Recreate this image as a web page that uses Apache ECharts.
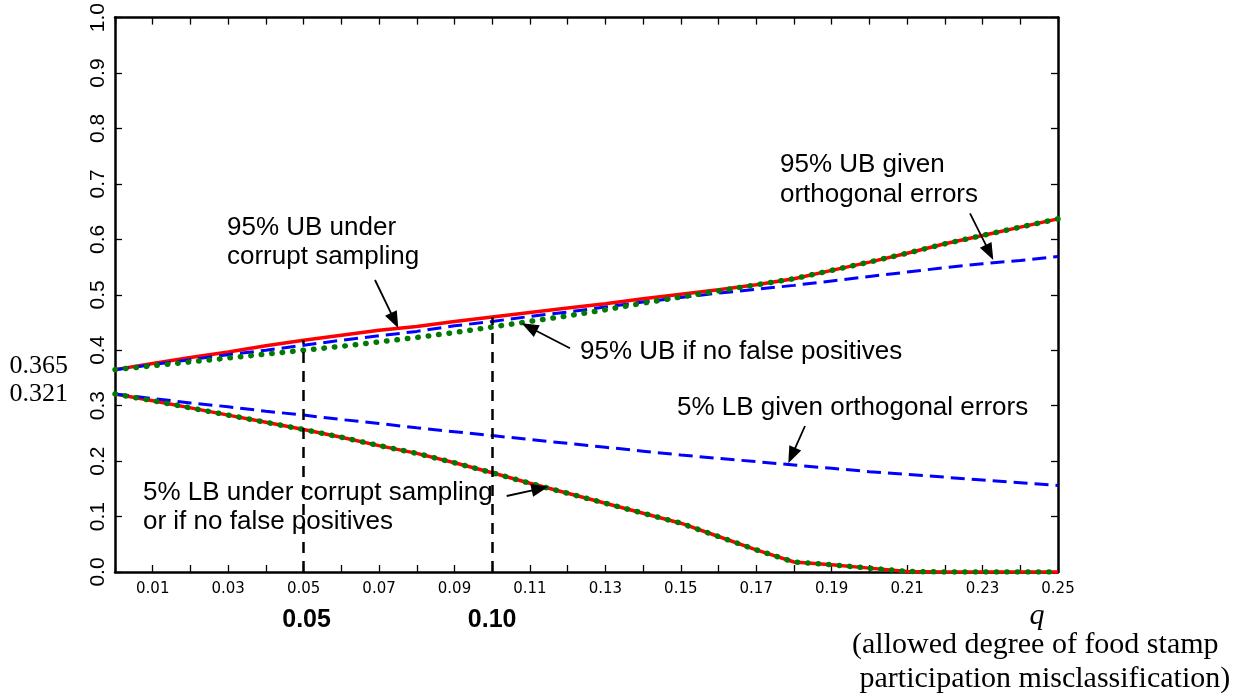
<!DOCTYPE html>
<html>
<head>
<meta charset="utf-8">
<script src="https://cdn.jsdelivr.net/npm/echarts@6/dist/echarts.min.js"></script>
<style>html,body{margin:0;padding:0;background:#fff}#c{width:1234px;height:700px}</style>
</head>
<body>
<div id="c"></div>
<script>
// ---- data ----
const q = [0,0.01,0.02,0.03,0.04,0.05,0.06,0.07,0.08,0.09,0.10,0.11,0.12,0.13,0.14,0.15,0.16,0.17,0.18,0.19,0.20,0.21,0.22,0.23,0.24,0.25];
const ubCorrupt = [0.365,0.376,0.387,0.397,0.408,0.418,0.427,0.436,0.443,0.452,0.460,0.468,0.476,0.484,0.493,0.501,0.509,0.518,0.529,0.544,0.559,0.575,0.592,0.607,0.622,0.637];
const ubOrth    = [0.365,0.374,0.383,0.392,0.400,0.409,0.418,0.426,0.434,0.444,0.452,0.461,0.469,0.478,0.487,0.495,0.503,0.510,0.517,0.525,0.533,0.541,0.549,0.556,0.562,0.569];
const ubNoFP    = [0.365,0.372,0.379,0.386,0.393,0.400,0.407,0.415,0.423,0.432,0.442,0.452,0.462,0.473,0.485,0.496,0.507,0.518,0.529,0.544,0.559,0.575,0.592,0.607,0.622,0.637];
const lbCorrupt = [0.321,0.309,0.296,0.283,0.270,0.257,0.243,0.228,0.214,0.197,0.179,0.160,0.142,0.124,0.106,0.088,0.064,0.040,0.018,0.013,0.007,0.001,0,0,0,0];
const lbNoFP    = [0.321,0.309,0.296,0.283,0.270,0.257,0.243,0.228,0.214,0.197,0.179,0.160,0.142,0.124,0.106,0.088,0.064,0.040,0.018,0.013,0.007,0.001,0,0,0,0];
const lbOrth    = [0.321,0.313,0.305,0.298,0.290,0.283,0.275,0.268,0.260,0.253,0.246,0.239,0.232,0.225,0.218,0.211,0.205,0.199,0.193,0.187,0.181,0.176,0.171,0.166,0.161,0.156];
const refQ = [0.05, 0.10];
const refLabels = ['0.05', '0.10'];
const baseValues = [0.365, 0.321];
const baseLabels = ['0.365', '0.321'];

const pairs = arr => q.map((x, i) => [x, arr[i]]);
const chart = echarts.init(document.getElementById('c'), null, {renderer: 'canvas'});

const sansFont = "'Liberation Sans', Arial, Helvetica, sans-serif";
const serifFont = "'Liberation Serif', 'Times New Roman', serif";

const baseAxis = {
  type: 'value',
  axisLine: {show: true, onZero: false, lineStyle: {color: '#000', width: 2.5}},
  axisTick: {show: true, inside: true, length: 7, lineStyle: {color: '#000', width: 1.3}},
  splitLine: {show: false}
};

const redStyle = {color: '#ff0000', width: 3.5, type: 'solid'};
const blueStyle = {color: '#0000ff', width: 3, type: [14, 7]};
const greenStyle = {color: '#007a00', width: 5.5, type: [0.5, 10], cap: 'round'};

function lineSeries(name, arr, style, z) {
  return {name, type: 'line', data: pairs(arr), showSymbol: false, symbol: 'none', smooth: false,
          lineStyle: style, z, silent: true};
}

const refLines = refQ.map(v => {
  const i = q.findIndex(x => Math.abs(x - v) < 1e-9);
  return [{coord: [v, 0]}, {coord: [v, ubCorrupt[i]]}];
});

const redUB = lineSeries('95% UB under corrupt sampling', ubCorrupt, redStyle, 2);
redUB.markLine = {silent: true, symbol: ['none', 'none'], label: {show: false},
  lineStyle: {color: '#000', width: 2.5, type: [11, 8]}, data: refLines, z: 10, animation: false};

chart.setOption({
  animation: false,
  backgroundColor: '#fff',
  grid: {left: 115, top: 17, right: 176, bottom: 128, containLabel: false},
  xAxis: [
    Object.assign({}, baseAxis, {
      min: 0, max: 0.25, interval: 0.01, position: 'bottom',
      axisLabel: {show: true, color: '#000', fontFamily: "'DejaVu Sans', sans-serif", fontSize: 15, margin: 10,
        formatter: v => (Math.round(v * 100) % 2 === 1 ? v.toFixed(2) : '')}
    }),
    Object.assign({}, baseAxis, {min: 0, max: 0.25, interval: 0.01, position: 'top', axisLabel: {show: false}})
  ],
  yAxis: [
    Object.assign({}, baseAxis, {
      min: 0, max: 1, interval: 0.1, position: 'left',
      axisLabel: {show: true, color: '#000', rotate: 90, fontFamily: "'Liberation Sans Narrow', 'Arial Narrow', " + sansFont,
        fontSize: 21, margin: 6, formatter: v => v.toFixed(1)}
    }),
    Object.assign({}, baseAxis, {min: 0, max: 1, interval: 0.1, position: 'right', axisLabel: {show: false}})
  ],
  series: [
    redUB,
    lineSeries('5% LB under corrupt sampling', lbCorrupt, redStyle, 2),
    lineSeries('95% UB given orthogonal errors', ubOrth, blueStyle, 3),
    lineSeries('5% LB given orthogonal errors', lbOrth, blueStyle, 3),
    lineSeries('95% UB if no false positives', ubNoFP, greenStyle, 4),
    lineSeries('5% LB if no false positives', lbNoFP, greenStyle, 4)
  ]
});

// ---- annotations ----
function arrow(x1, y1, x2, y2) {
  const dx = x2 - x1, dy = y2 - y1, L = Math.hypot(dx, dy), ux = dx / L, uy = dy / L;
  const hl = 17, hw = 6.5;
  const bx = x2 - ux * hl, by = y2 - uy * hl;
  return [
    {type: 'line', z: 100, shape: {x1, y1, x2: bx + ux * 3, y2: by + uy * 3}, style: {stroke: '#000', lineWidth: 1.8}},
    {type: 'polygon', z: 100, shape: {points: [[x2, y2], [bx - uy * hw, by + ux * hw], [bx + uy * hw, by - ux * hw]]}, style: {fill: '#000'}}
  ];
}
function txt(s, x, y, opt) {
  return {type: 'text', z: 100, x, y, style: Object.assign({text: s, fill: '#000', font: '26px ' + sansFont,
    textAlign: 'left', textVerticalAlign: 'middle'}, opt || {})};
}

const P = (a, b) => chart.convertToPixel({xAxisIndex: 0, yAxisIndex: 0}, [a, b]);
const els = [];
els.push(txt('95% UB under', 227, 228));
els.push(txt('corrupt sampling', 227, 257));
els.push(txt('95% UB if no false positives', 580, 352));
els.push(txt('5% LB given orthogonal errors', 677, 408));
els.push(txt('95% UB given', 780, 165));
els.push(txt('orthogonal errors', 780, 195));
els.push(txt('5% LB under corrupt sampling', 143, 493));
els.push(txt('or if no false positives', 143, 522));

els.push(...arrow(375, 280, 398.3, 328.3));
els.push(...arrow(570, 348.3, 521.7, 323.3));
els.push(...arrow(805, 426, 788.3, 463.3));
els.push(...arrow(970, 213.3, 993.3, 260));
els.push(...arrow(506.7, 496, 548.3, 486.7));

const refShift = [3, 0];
refQ.forEach((v, i) => {
  const p = P(v, 0);
  els.push(txt(refLabels[i], p[0] + refShift[i], 620, {font: 'bold 25px ' + sansFont, textAlign: 'center'}));
});
const baseShift = [-3.5, 0];
baseValues.forEach((v, i) => {
  const p = P(0, v);
  els.push(txt(baseLabels[i], 68, p[1] + baseShift[i], {font: '26px ' + serifFont, textAlign: 'right'}));
});
els.push(txt('q', 1037, 616, {font: 'italic 30px ' + serifFont, textAlign: 'center'}));
els.push(txt('(allowed degree of food stamp', 852, 645, {font: '30px ' + serifFont}));
els.push(txt(' participation misclassification)', 852, 679, {font: '30px ' + serifFont}));

chart.setOption({graphic: {elements: els}});
</script>
</body>
</html>
